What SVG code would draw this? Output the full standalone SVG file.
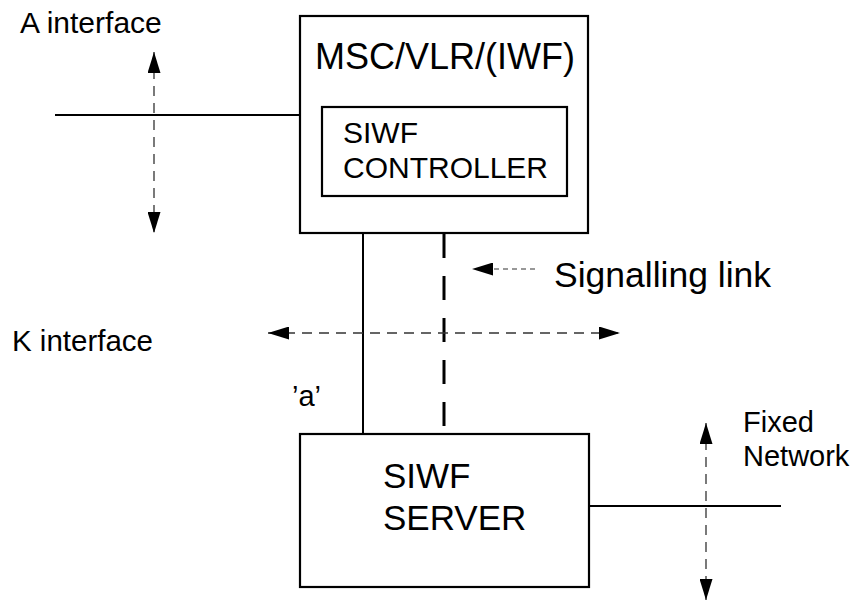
<svg xmlns="http://www.w3.org/2000/svg" width="858" height="601" viewBox="0 0 858 601">
<defs>
<style>
text{font-family:"Liberation Sans",Arial,sans-serif;fill:#000}
.box{fill:#fff;stroke:#000;stroke-width:2.2}
.solid{stroke:#000;stroke-width:2;fill:none}
.dash{stroke:#333;stroke-width:1.3;stroke-dasharray:10 7;fill:none}
.sdash{stroke:#333;stroke-width:1.2;stroke-dasharray:5 4;fill:none}
.thick{stroke:#000;stroke-width:3;stroke-dasharray:24 18;fill:none}
</style>
<marker id="ah" viewBox="0 0 21 13" refX="21" refY="6.5" markerWidth="21" markerHeight="13" markerUnits="userSpaceOnUse" orient="auto-start-reverse">
<path d="M0,0 L21,6.5 L0,13 z" fill="#000"/>
</marker>
</defs>
<rect width="858" height="601" fill="#fff"/>
<g id="connectors">
<line class="solid" x1="55" y1="115" x2="300" y2="115"/>
<line class="dash" x1="154" y1="52" x2="154" y2="233" marker-start="url(#ah)" marker-end="url(#ah)"/>
<line class="solid" x1="363" y1="233" x2="363" y2="434"/>
<line class="thick" x1="444" y1="234" x2="444" y2="427"/>
<line class="sdash" x1="535" y1="269" x2="472" y2="269" marker-end="url(#ah)"/>
<line class="dash" x1="268" y1="333" x2="620" y2="333" marker-start="url(#ah)" marker-end="url(#ah)"/>
<line class="solid" x1="589" y1="506" x2="781" y2="506"/>
<line class="dash" x1="706" y1="423" x2="706" y2="600" marker-start="url(#ah)" marker-end="url(#ah)"/>
</g>
<g id="msc">
<rect class="box" x="300" y="16" width="288" height="217"/>
<text x="315" y="69" font-size="36">MSC/VLR/(IWF)</text>
</g>
<g id="controller">
<rect class="box" x="322" y="107" width="245" height="89"/>
<text x="343" y="143" font-size="30">SIWF</text>
<text x="343" y="178" font-size="30">CONTROLLER</text>
</g>
<g id="server">
<rect class="box" x="300" y="434" width="289" height="153"/>
<text x="383" y="488" font-size="35">SIWF</text>
<text x="383" y="530" font-size="35">SERVER</text>
</g>
<g id="labels">
<text x="20" y="33" font-size="30">A interface</text>
<text x="554" y="287" font-size="35.5">Signalling link</text>
<text x="12" y="351" font-size="29.5">K interface</text>
<text x="292" y="406" font-size="29">’a’</text>
<text x="743" y="432" font-size="29">Fixed</text>
<text x="743" y="466" font-size="29">Network</text>
</g>
</svg>
